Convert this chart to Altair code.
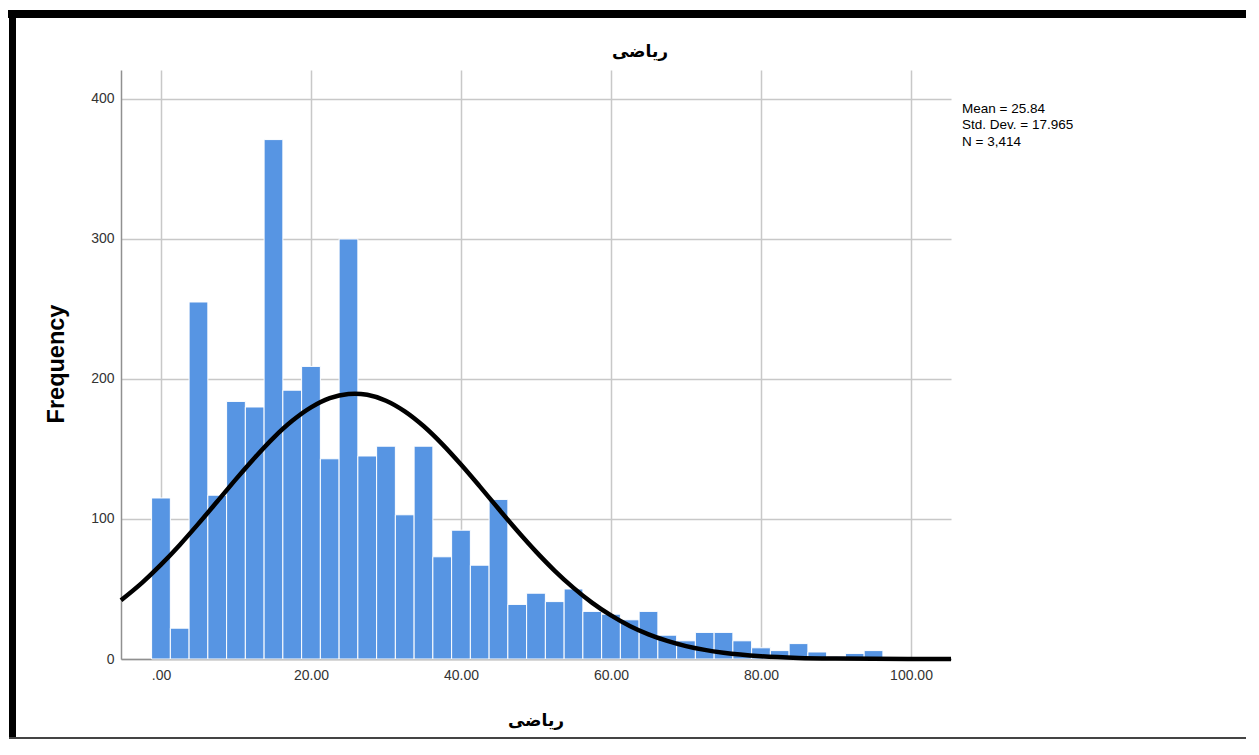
import altair as alt
import pandas as pd

# Histogram bins (bin centres, width 2.5) and counts
bin_centers = [0, 2.5, 5, 7.5, 10, 12.5, 15, 17.5, 20, 22.5, 25, 27.5, 30, 32.5,
               35, 37.5, 40, 42.5, 45, 47.5, 50, 52.5, 55, 57.5, 60, 62.5, 65,
               67.5, 70, 72.5, 75, 77.5, 80, 82.5, 85, 87.5, 90, 92.5, 95]
counts = [115, 22, 255, 117, 184, 180, 371, 192, 209, 143, 300, 145, 152, 103,
          152, 73, 92, 67, 114, 39, 47, 41, 50, 34, 32, 28, 34,
          17, 13, 19, 19, 13, 8, 6, 11, 5, 2, 4, 6]
bin_width = 2.5

# Normal curve
curve_x = [-5.33, -2.5, 0, 2.5, 5, 7.5, 10, 12.5, 15, 17.5, 20, 22.5, 25, 25.84,
           27.5, 30, 32.5, 35, 37.5, 40, 42.5, 45, 47.5, 50, 52.5, 55, 57.5, 60,
           62.5, 65, 67.5, 70, 72.5, 75, 80, 85, 90, 95, 100, 105.33]
curve_y = [42, 54.6, 67.4, 81.5, 96.7, 112.5, 128.5, 143.8, 158, 170.1, 179.7,
           186.3, 189.3, 189.5, 188.7, 184.5, 176.9, 166.4, 153.5, 138.9, 123.3,
           107.3, 91.6, 76.7, 63.0, 50.8, 40.1, 31.1, 23.6, 17.6, 12.9, 9.2, 6.5,
           4.5, 2.0, 0.8, 0.3, 0.1, 0, 0]

x_ticks = [0, 20, 40, 60, 80, 100]
y_ticks = [0, 100, 200, 300, 400]
title_text = "ریاضی"
y_title = "Frequency"
stats_lines = ["Mean = 25.84", "Std. Dev. = 17.965", "N = 3,414"]

bars_df = pd.DataFrame({"center": bin_centers, "count": counts})
curve_df = pd.DataFrame({"x": curve_x, "y": curve_y})

W, H = 830, 589
x_scale = alt.Scale(domain=[-5.33, 105.33], nice=False, zero=False)
y_scale = alt.Scale(domain=[0, 420.7], nice=False)

x_axis = alt.Axis(values=x_ticks, title=None, grid=True, ticks=False,
                  labelExpr="datum.value == 0 ? '.00' : format(datum.value, '.2f')",
                  labelPadding=9)
y_axis = alt.Axis(values=y_ticks, title=None, grid=True, ticks=False,
                  labelPadding=7)

bars = alt.Chart(bars_df).transform_calculate(
    lo=f"datum.center - {bin_width / 2}",
    hi=f"datum.center + {bin_width / 2}",
).mark_bar(color="#5795e3", stroke="white", strokeWidth=1).encode(
    x=alt.X("lo:Q", scale=x_scale, axis=x_axis),
    x2="hi:Q",
    y=alt.Y("count:Q", scale=y_scale, axis=y_axis),
    y2=alt.datum(0),
)

curve = alt.Chart(curve_df).mark_line(color="black", strokeWidth=4.5,
                                      interpolate="monotone").encode(
    x=alt.X("x:Q", scale=x_scale, axis=x_axis),
    y=alt.Y("y:Q", scale=y_scale, axis=y_axis),
)

one = alt.Data(values=[{}])

def text_at(txt, x, y, **kw):
    return alt.Chart(one).mark_text(text=txt, **kw).encode(
        x=alt.value(x), y=alt.value(y))

title_mark = text_at(title_text, 519, -18, font="DejaVu Sans", fontWeight="bold",
                     fontSize=17, color="black", align="center", baseline="middle")
xtitle_mark = text_at(title_text, 415, 651, font="DejaVu Sans", fontWeight="bold",
                      fontSize=17, color="black", align="center", baseline="middle")
ytitle_mark = text_at(y_title, -64, 294, font="Liberation Sans", fontWeight="bold",
                      fontSize=23.5, color="black", align="center", baseline="middle",
                      angle=270)
stats_marks = [
    text_at(s, 841, 38.5 + 16.5 * i, font="Liberation Sans", fontSize=13.5,
            color="black", align="left", baseline="middle")
    for i, s in enumerate(stats_lines)
]

frame_top = alt.Chart(one).mark_rect(color="black").encode(
    x=alt.value(-113), x2=alt.value(1130), y=alt.value(-60), y2=alt.value(-52))
frame_left = alt.Chart(one).mark_rect(color="black").encode(
    x=alt.value(-112), x2=alt.value(-105), y=alt.value(-60), y2=alt.value(669))
frame_bottom = alt.Chart(one).mark_rect(color="#444444").encode(
    x=alt.value(-112), x2=alt.value(1130), y=alt.value(667), y2=alt.value(669))

chart = alt.layer(
    bars, curve, title_mark, xtitle_mark, ytitle_mark, *stats_marks,
    frame_top, frame_left, frame_bottom
).properties(
    width=W, height=H,
    padding={"left": 113, "top": 62, "right": 295, "bottom": 80},
    autosize=alt.AutoSizeParams(type="none"),
    background="white",
).configure_view(stroke=None).configure_axis(
    gridColor="#c8c8c8", gridWidth=1.5, domainColor="#909090", domainWidth=1.5,
    labelFont="Liberation Sans", labelFontSize=14, labelColor="#333333",
)

chart.save("out.html", embed_options={"renderer": "svg", "actions": False})
